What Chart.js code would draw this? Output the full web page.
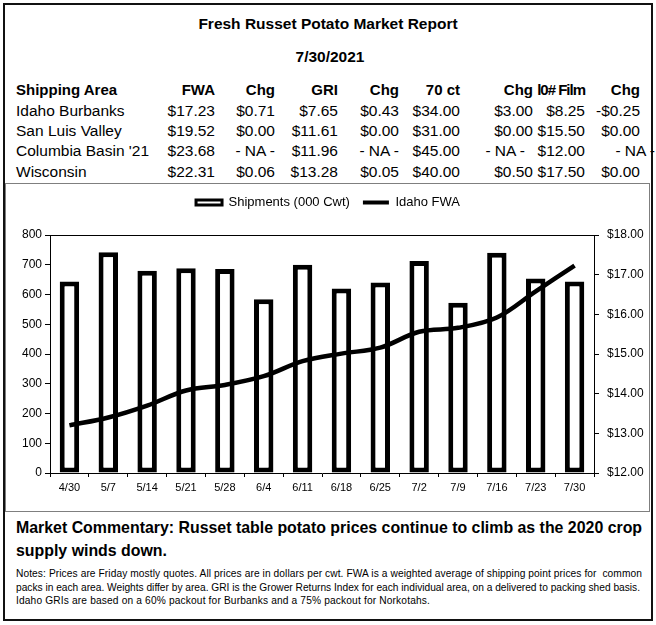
<!DOCTYPE html>
<html>
<head>
<meta charset="utf-8">
<script src="https://cdn.jsdelivr.net/npm/chart.js@4.4.1/dist/chart.umd.min.js"></script>
<style>
  body { margin: 0; width: 656px; height: 625px; background: #fff; color: #000;
         font-family: Arial, "Liberation Sans", sans-serif; position: relative; overflow: hidden; }
  .frame { position: absolute; left: 3px; top: 3px; width: 650px; height: 618px;
           border: 2px solid #111; box-sizing: border-box; }
  .chartbox { position: absolute; left: 5px; top: 183px; width: 645px; height: 329px;
              border: 1px solid #7f7f7f; box-sizing: border-box; }
  .wrap { position: absolute; left: 0; top: 183px; width: 656px; height: 329px; }
  .t { position: absolute; white-space: pre; line-height: 1; }
</style>
</head>
<body>
<div class="frame"></div>
<div class="chartbox"></div>
<div class="wrap"><canvas id="chart" width="656" height="329"></canvas></div>
<div id="texts"></div>
<script>
// chart data
const weeks = ['4/30', '5/7', '5/14', '5/21', '5/28', '6/4', '6/11', '6/18', '6/25', '7/2', '7/9', '7/16', '7/23', '7/30'];
const shipments = [644, 742, 680, 688, 686, 584, 700, 620, 640, 713, 572, 740, 654, 644];
const idahoFwa = [13.20, 13.40, 13.70, 14.08, 14.22, 14.44, 14.82, 15.01, 15.16, 15.56, 15.66, 15.92, 16.58, 17.23];

// price table
const tableHead = ['Shipping Area', 'FWA', 'Chg', 'GRI', 'Chg', '70 ct', 'Chg', 'l0# Film', 'Chg'];
const tableRows = [
    ['Idaho Burbanks', '$17.23', '$0.71', '$7.65', '$0.43', '$34.00', '$3.00', '$8.25', '-$0.25'],
    ['San Luis Valley', '$19.52', '$0.00', '$11.61', '$0.00', '$31.00', '$0.00', '$15.50', '$0.00'],
    ["Columbia Basin '21", '$23.68', '- NA -', '$11.96', '- NA -', '$45.00', '- NA -', '$12.00', '- NA -'],
    ['Wisconsin', '$22.31', '$0.06', '$13.28', '$0.05', '$40.00', '$0.50', '$17.50', '$0.00']
];
const colRight = [215, 275, 338, 399, 460, 533, 585, 640];

const FONT = 'Arial, "Liberation Sans", sans-serif';
const box = document.getElementById('texts');

// place text by its baseline
function txt(str, x, base, size, bold, align, spacing) {
    const d = document.createElement('div');
    d.className = 't';
    d.textContent = str;
    d.style.fontSize = size + 'px';
    d.style.fontWeight = bold ? 'bold' : 'normal';
    if (spacing) d.style.letterSpacing = spacing + 'px';
    d.style.top = (base - 0.8465 * size) + 'px';
    if (align === 'right') d.style.right = (656 - x) + 'px';
    else if (align === 'center') { d.style.left = x + 'px'; d.style.transform = 'translateX(-50%)'; }
    else d.style.left = x + 'px';
    box.appendChild(d);
    return d;
}

// stretch a left-aligned line so it ends at xEnd
function fitTo(d, xEnd) {
    const w = d.getBoundingClientRect().width;
    const left = parseFloat(d.style.left);
    d.style.letterSpacing = ((xEnd - left - w) / d.textContent.length) + 'px';
}

txt('Fresh Russet Potato Market Report', 328, 29, 15.5, true, 'center');
txt('7/30/2021', 330, 62, 15.5, true, 'center');

txt(tableHead[0], 16, 95, 15, true);
tableHead.slice(1).forEach((h, i) => {
    txt(h, colRight[i], 95, 15, true, 'right', i === 6 ? -1 : 0);
});
tableRows.forEach((row, r) => {
    const base = 116 + r * 20.3;
    txt(row[0], 16, base, 15.5, false);
    row.slice(1).forEach((v, i) => {
        let x = colRight[i];
        if (v === '- NA -' && i === 5) x = 525;
        if (v === '- NA -' && i === 7) x = 655;
        txt(v, x, base, 15.5, false, 'right');
    });
});

txt('Market Commentary: Russet table potato prices continue to climb as the 2020 crop', 16, 533, 15.9, true);
txt('supply winds down.', 16, 556, 15.9, true);
fitTo(txt('Notes: Prices are Friday mostly quotes. All prices are in dollars per cwt. FWA is a weighted average of shipping point prices for  common', 16, 578, 10.2, false), 642);
fitTo(txt('packs in each area. Weights differ by area. GRI is the Grower Returns Index for each individual area, on a delivered to packing shed basis.', 16, 591.5, 10.2, false), 640);
fitTo(txt('Idaho GRIs are based on a 60% packout for Burbanks and a 75% packout for Norkotahs.', 16, 605, 10.2, false), 430);

// chart
Chart.defaults.font.family = FONT;
Chart.defaults.color = '#000';

// top edge of the plot frame, and a taller legend band
const plotFrame = {
    id: 'plotFrame',
    afterInit(chart) {
        const lg = chart.legend;
        const fit = lg.fit;
        lg.fit = function () { fit.call(this); this.height = 52; };
    },
    afterDraw(chart) {
        const { ctx, chartArea: a } = chart;
        ctx.save();
        ctx.strokeStyle = '#000';
        ctx.lineWidth = 1;
        ctx.beginPath();
        ctx.moveTo(a.left, Math.round(a.top) + 0.5);
        ctx.lineTo(a.right, Math.round(a.top) + 0.5);
        ctx.stroke();
        ctx.restore();
    }
};

new Chart(document.getElementById('chart'), {
    type: 'bar',
    data: {
        labels: weeks,
        datasets: [{
            type: 'bar',
            label: 'Shipments (000 Cwt)',
            data: shipments,
            backgroundColor: '#fff',
            borderColor: '#000',
            borderWidth: 5,
            borderSkipped: false,
            barPercentage: 0.5,
            categoryPercentage: 1,
            yAxisID: 'y',
            order: 2
        }, {
            type: 'line',
            label: 'Idaho FWA',
            data: idahoFwa,
            borderColor: '#000',
            backgroundColor: '#000',
            borderWidth: 4.5,
            pointRadius: 0,
            tension: 0.35,
            yAxisID: 'y2',
            order: 1
        }]
    },
    options: {
        responsive: false,
        animation: false,
        layout: { padding: 0 },
        plugins: {
            tooltip: { enabled: false },
            legend: {
                position: 'top',
                labels: {
                    usePointStyle: true,
                    pointStyleWidth: 26,
                    boxHeight: 5,
                    padding: 13,
                    font: { size: 13 },
                    generateLabels(chart) {
                        const items = Chart.defaults.plugins.legend.labels.generateLabels(chart);
                        items.forEach(it => {
                            if (it.datasetIndex === 0) {
                                it.pointStyle = 'rect';
                                it.lineWidth = 3;
                                it.fillStyle = '#fff';
                            } else {
                                it.pointStyle = 'line';
                                it.lineWidth = 4;
                            }
                        });
                        return items.sort((a, b) => a.datasetIndex - b.datasetIndex);
                    }
                }
            }
        },
        scales: {
            x: {
                grid: { drawOnChartArea: false, color: '#000', tickLength: 4, offset: true },
                border: { color: '#000' },
                ticks: { font: { size: 11 }, padding: 4, maxRotation: 0, autoSkip: false },
                afterFit(s) { s.height = 39; }
            },
            y: {
                position: 'left',
                min: 0,
                max: 800,
                ticks: { stepSize: 100, font: { size: 12 }, padding: 3 },
                grid: { drawOnChartArea: false, color: '#000', tickLength: 5 },
                border: { color: '#000' },
                afterFit(s) { s.width = 50; }
            },
            y2: {
                position: 'right',
                min: 12,
                max: 18,
                ticks: { stepSize: 1, font: { size: 12 }, padding: 8, callback: v => '$' + v.toFixed(2) },
                grid: { drawOnChartArea: false, color: '#000', tickLength: 5 },
                border: { color: '#000' },
                afterFit(s) { s.width = 62; }
            }
        }
    },
    plugins: [plotFrame]
});
</script>
</body>
</html>
